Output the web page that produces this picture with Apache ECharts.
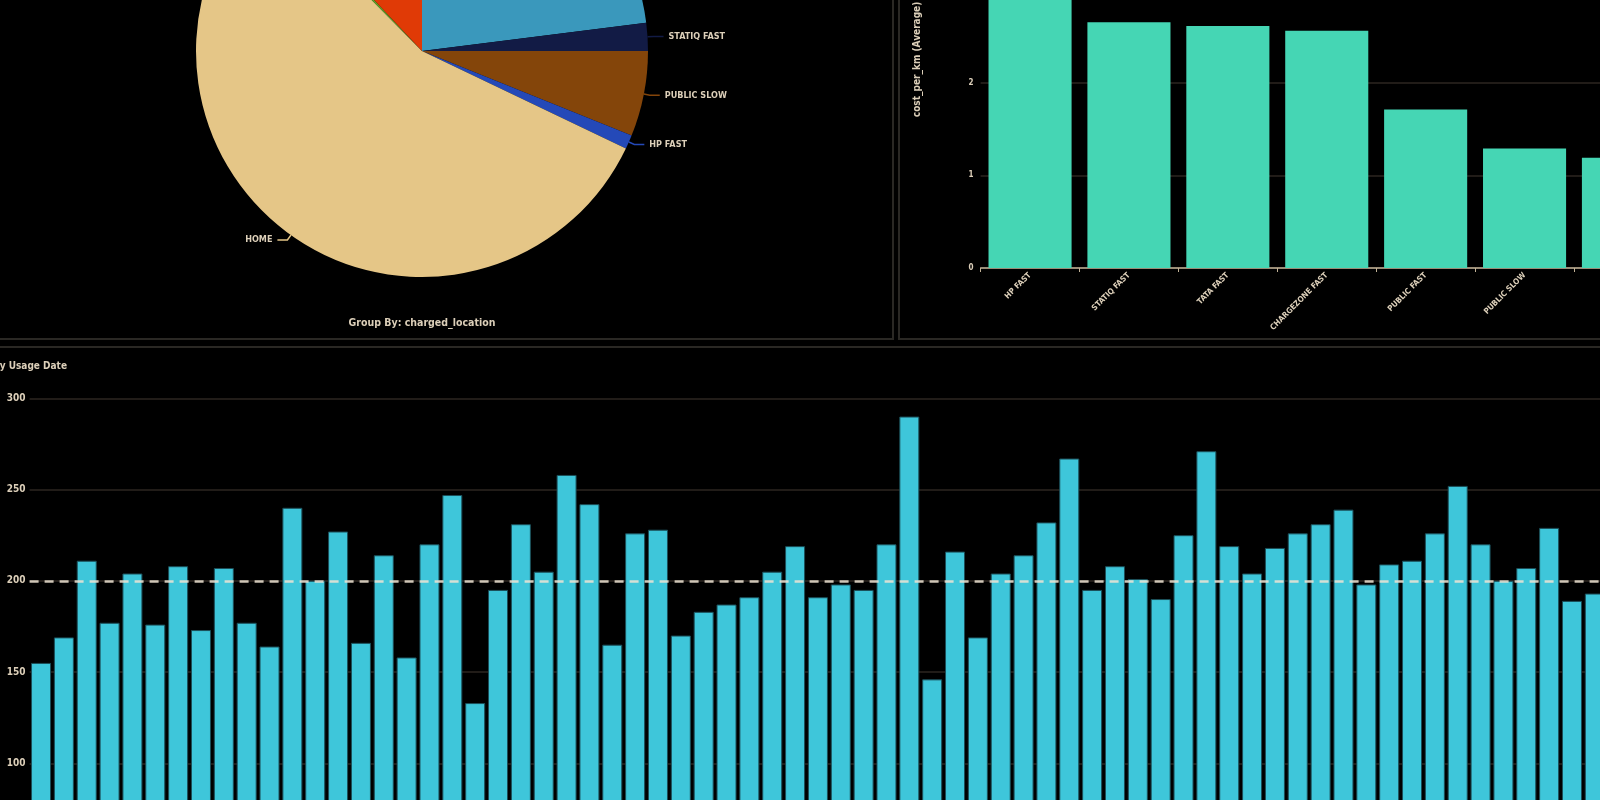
<!DOCTYPE html>
<html>
<head>
<meta charset="utf-8">
<script src="https://cdn.jsdelivr.net/npm/echarts@6/dist/echarts.min.js"></script>
<style>
html,body{margin:0;padding:0;background:#000;overflow:hidden;}
#c{width:1600px;height:800px;}
</style>
</head>
<body>
<div id="c"></div>
<script>
// ---- Pie: share by charged_location ----
const pieNames  = ['PUBLIC FAST','STATIQ FAST','PUBLIC SLOW','HP FAST','HOME','TATA FAST','CHARGEZONE FAST'];
const pieValues = [23.0, 2.0, 6.1, 1.0, 55.5, 0.4, 12.0];
const pieColors = ['#3a98bc','#121b45','#84450a','#2449b8','#e5c687','#5fa62a','#e03a06'];

// ---- Top-right bars: cost_per_km (Average) ----
const costCats   = ['HP FAST','STATIQ FAST','TATA FAST','CHARGEZONE FAST','PUBLIC FAST','PUBLIC SLOW','HOME'];
const costValues = [3.2, 2.65, 2.61, 2.56, 1.71, 1.29, 1.19];

// ---- Bottom bars: by usage date ----
const usageDates = [
 '2023-06-01','2023-06-02','2023-06-03','2023-06-04','2023-06-05','2023-06-06','2023-06-07','2023-06-08','2023-06-09','2023-06-10',
 '2023-06-11','2023-06-12','2023-06-13','2023-06-14','2023-06-15','2023-06-16','2023-06-17','2023-06-18','2023-06-19','2023-06-20',
 '2023-06-21','2023-06-22','2023-06-23','2023-06-24','2023-06-25','2023-06-26','2023-06-27','2023-06-28','2023-06-29','2023-06-30',
 '2023-07-01','2023-07-02','2023-07-03','2023-07-04','2023-07-05','2023-07-06','2023-07-07','2023-07-08','2023-07-09','2023-07-10',
 '2023-07-11','2023-07-12','2023-07-13','2023-07-14','2023-07-15','2023-07-16','2023-07-17','2023-07-18','2023-07-19','2023-07-20',
 '2023-07-21','2023-07-22','2023-07-23','2023-07-24','2023-07-25','2023-07-26','2023-07-27','2023-07-28','2023-07-29','2023-07-30',
 '2023-07-31','2023-08-01','2023-08-02','2023-08-03','2023-08-04','2023-08-05','2023-08-06','2023-08-07','2023-08-08'];
const usageValues = [
 155, 169, 211, 177, 204, 176, 208, 173, 207, 177,
 164, 240, 200, 227, 166, 214, 158, 220, 247, 133,
 195, 231, 205, 258, 242, 165, 226, 228, 170, 183,
 187, 191, 205, 219, 191, 198, 195, 220, 290, 146,
 216, 169, 204, 214, 232, 267, 195, 208, 201, 190,
 225, 271, 219, 204, 218, 226, 231, 239, 198, 209,
 211, 226, 252, 220, 200, 207, 229, 189, 193];
const usageTicks = [0, 50, 100, 150, 200, 250, 300];
const usageRefLine = 200;

const txt = '#dccfb9';
const grid = '#2c2620';
const font = "'Liberation Sans Narrow','DejaVu Sans Condensed',sans-serif";

const chart = echarts.init(document.getElementById('c'), null, {renderer:'canvas'});
chart.setOption({
  backgroundColor: '#000',
  animation: false,
  textStyle: {fontFamily: font},
  graphic: [
    {type:'rect', shape:{x:-10, y:-10, width:903, height:349}, style:{fill:'none', stroke:'#2a2824', lineWidth:2}, z:0},
    {type:'rect', shape:{x:899, y:-10, width:720, height:349}, style:{fill:'none', stroke:'#2a2824', lineWidth:2}, z:0},
    {type:'rect', shape:{x:-10, y:347, width:1630, height:470}, style:{fill:'none', stroke:'#2a2824', lineWidth:2}, z:0},
    {type:'text', x:422, y:323, style:{text:'Group By: charged_location', fill:txt, font:"bold 10.5px "+font, textAlign:'center', textVerticalAlign:'middle'}},
    {type:'text', x:67, y:366, style:{text:'Energy by Usage Date', fill:txt, font:"bold 10px "+font, textAlign:'right', textVerticalAlign:'middle'}}
  ],
  grid: [
    {outerBoundsMode:'none', containLabel:false, left: 980.6, width: costCats.length*98.9, top: 268 - 4.5*92.7, height: 4.5*92.7},
    {outerBoundsMode:'none', containLabel:false, left: 29.6, width: usageValues.length*22.85, top: 398.3, height: 547.5}
  ],
  xAxis: [
    {type:'category', gridIndex:0, data: costCats,
     axisLine:{lineStyle:{color:'#c2b296', width:1.5}},
     axisTick:{show:true, length:4, lineStyle:{color:'#c2b296'}},
     axisLabel:{rotate:45, color:txt, fontSize:8, fontWeight:'bold', margin:6, interval:0}},
    {type:'category', gridIndex:1, data: usageDates,
     axisLine:{lineStyle:{color:'#c2b296'}}, axisTick:{show:false},
     axisLabel:{show:false}}
  ],
  yAxis: [
    {type:'value', gridIndex:0, min:0, max:4.5, interval:1,
     name:'cost_per_km (Average)', nameLocation:'middle', nameGap:58,
     nameTextStyle:{color:txt, fontSize:10, fontWeight:'bold'},
     axisLine:{show:false}, axisTick:{show:false},
     axisLabel:{color:txt, fontSize:8, fontWeight:'bold', margin:7, showMaxLabel:false},
     splitLine:{lineStyle:{color:grid, width:1.5}}},
    {type:'value', gridIndex:1, min:usageTicks[0], max:usageTicks[usageTicks.length-1], interval:50,
     axisLine:{show:false}, axisTick:{show:false},
     axisLabel:{color:txt, fontSize:10, fontWeight:'bold', margin:4},
     splitLine:{lineStyle:{color:grid, width:1.5}}}
  ],
  series: [
    {type:'pie', center:[422, 51], radius:226, startAngle:90, clockwise:true,
     avoidLabelOverlap:false, silent:true,
     data: pieNames.map((n,i)=>({name:n, value:pieValues[i], itemStyle:{color:pieColors[i]}})),
     label:{show:true, position:'outside', color:txt, fontSize:9, fontWeight:'bold', fontFamily:font},
     labelLine:{show:true, length:6, length2:10, lineStyle:{width:1.5}}},
    {type:'bar', xAxisIndex:0, yAxisIndex:0, data: costValues, barCategoryGap:'16%',
     itemStyle:{color:'#45d6b4'}},
    {type:'bar', xAxisIndex:1, yAxisIndex:1, data: usageValues, barCategoryGap:'12.5%',
     itemStyle:{color:'#3ec6da', borderColor:'#1c4f59', borderWidth:1},
     markLine:{silent:true, symbol:'none', label:{show:false},
       lineStyle:{color:'rgba(238,228,212,0.85)', type:[9,6], width:2.5},
       data:[{yAxis: usageRefLine}]}}
  ]
});
</script>
</body>
</html>
